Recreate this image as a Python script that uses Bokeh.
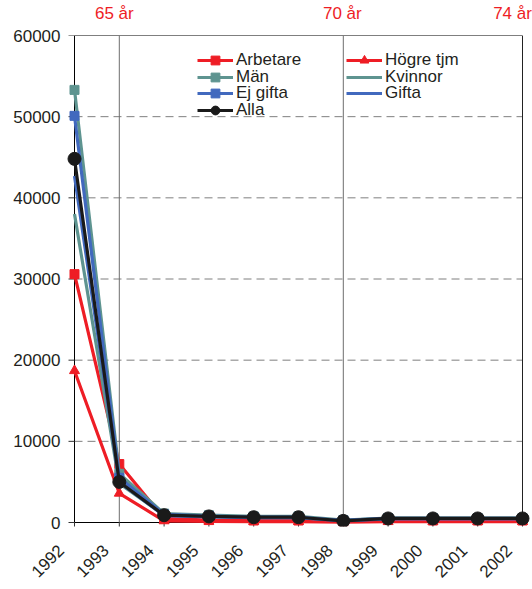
from math import pi
from bokeh.plotting import figure
from bokeh.models import Range1d, FixedTicker, Legend, LegendItem, LinearAxis
from bokeh.embed import file_html
from bokeh.resources import INLINE

# ---- data ----
years = [1992, 1993, 1994, 1995, 1996, 1997, 1998, 1999, 2000, 2001, 2002]
arbetare = [30600, 7200, 500, 300, 250, 250, 150, 350, 250, 250, 250]
hogre_tjm = [18700, 3600, 200, 150, 100, 100, 50, 100, 100, 100, 100]
man = [53300, 6000, 1100, 900, 750, 750, 300, 550, 550, 550, 550]
kvinnor = [38000, 4800, 900, 750, 600, 600, 250, 500, 500, 500, 500]
ej_gifta = [50100, 5500, 1000, 800, 650, 650, 250, 500, 500, 500, 500]
gifta = [42700, 5000, 850, 700, 600, 600, 200, 450, 450, 450, 450]
alla = [44800, 5000, 900, 750, 650, 650, 200, 500, 500, 500, 500]

age_years = [1993, 1998, 2002]
age_labels = ["65 år", "70 år", "74 år"]
y_ticks = [0, 10000, 20000, 30000, 40000, 50000, 60000]

FONT = "Liberation Sans"
RED = "#EE1D25"
TEAL = "#5E9490"
BLUE = "#4169BE"
BLACK = "#1A1A1A"
TXT = "#231F20"

PX_YEAR = 44.8          # pixels per year
PX_UNIT = 487 / 60000   # pixels per value unit
TICK = 6                # tick length in px
AXIS_X = 74             # px of the value axis line
FRAME_L = 60            # frame left edge (value labels end here)
PAD_L, PAD_R, PAD_B = AXIS_X - FRAME_L, 10, 4   # frame padding so edge marks are not clipped
FRAME_B = 522 + PAD_B   # frame bottom, px from top

x0, x1 = years[0], years[-1]
ymax = y_ticks[-1]
xr = (x0 - PAD_L / PX_YEAR, x1 + PAD_R / PX_YEAR)

p = figure(width=532, height=589,
           x_range=Range1d(*xr),
           y_range=Range1d(-PAD_B / PX_UNIT, ymax),
           x_axis_location=None,
           output_backend="svg", toolbar_location=None,
           min_border_left=FRAME_L, min_border_right=0, min_border_top=35,
           min_border_bottom=589 - FRAME_B)
p.outline_line_color = None
p.grid.visible = False
p.background_fill_color = "white"

# bottom axis on a slightly shifted range: rotated labels sit down-left of their ticks
shift = 13.5 / PX_YEAR
p.extra_x_ranges = {"lbl": Range1d(xr[0] + shift, xr[1] + shift)}
bottom_axis = LinearAxis(x_range_name="lbl", ticker=FixedTicker(ticks=years))
p.add_layout(bottom_axis, "below")

p.yaxis.ticker = FixedTicker(ticks=y_ticks)
for ax in (bottom_axis, p.yaxis[0]):
    ax.axis_line_color = None
    ax.major_tick_line_color = None
    ax.minor_tick_line_color = None
    ax.major_tick_in = 0
    ax.major_tick_out = 0
    ax.major_label_text_font = FONT
    ax.major_label_text_font_size = "17px"
    ax.major_label_text_color = TXT
p.yaxis.major_label_standoff = 0
bottom_axis.major_label_orientation = pi / 4
bottom_axis.major_label_standoff = 21

# top axis carrying the age labels
age_offsets_px = [-5, -1, -10]
top_ticks = [a + o / PX_YEAR for a, o in zip(age_years, age_offsets_px)]
top_axis = LinearAxis(ticker=FixedTicker(ticks=top_ticks),
                      major_label_overrides={t: s for t, s in zip(top_ticks, age_labels)},
                      axis_line_color=None, major_tick_line_color=None,
                      minor_tick_line_color=None,
                      major_label_text_font=FONT, major_label_text_font_size="17px",
                      major_label_text_color=RED, major_label_standoff=7)
p.add_layout(top_axis, "above")

# dashed gridlines
grid_y = y_ticks[1:-1]
p.segment(x0=[x0] * len(grid_y), y0=grid_y, x1=[x1] * len(grid_y), y1=grid_y,
          line_color="#7F7F7F", line_width=1, line_dash="8 5")
# axis lines and top border
p.segment(x0=[x0, x0, x0], y0=[0, 0, ymax], x1=[x0, x1, x1], y1=[ymax, 0, ymax],
          line_color="black", line_width=1)
# ticks
p.segment(x0=[x0 - TICK / PX_YEAR] * len(y_ticks), y0=y_ticks, x1=[x0] * len(y_ticks), y1=y_ticks,
          line_color="#333333", line_width=1)
p.segment(x0=years, y0=[0] * len(years), x1=years, y1=[-TICK / PX_UNIT] * len(years),
          line_color="#333333", line_width=1)
# age lines
p.segment(x0=age_years[:2], y0=[0, 0], x1=age_years[:2], y1=[ymax, ymax],
          line_color="#6D6D6D", line_width=1)
p.segment(x0=[age_years[2]], y0=[0], x1=[age_years[2]], y1=[ymax],
          line_color="#222222", line_width=1)

series = [
    ("Arbetare", arbetare, RED, "square", 9),
    ("Högre tjm", hogre_tjm, RED, "triangle", 10),
    ("Män", man, TEAL, "square", 9),
    ("Kvinnor", kvinnor, TEAL, None, 0),
    ("Ej gifta", ej_gifta, BLUE, "square", 9),
    ("Gifta", gifta, BLUE, None, 0),
    ("Alla", alla, BLACK, "circle", 13),
]
items = {}
for name, vals, col, mk, sz in series:
    rs = [p.line(years, vals, line_color=col, line_width=3.2)]
    if mk:
        rs.append(p.scatter(years, vals, marker=mk, size=sz, fill_color=col, line_color=col))
    items[name] = LegendItem(label=name, renderers=rs)

# legend: two columns, rows placed one by one
legend_cols = [["Arbetare", "Män", "Ej gifta", "Alla"], ["Högre tjm", "Kvinnor", "Gifta"]]
col_left = [197, 346]            # px from left of picture
row_center = [60, 76.5, 93, 110]  # px from top of picture
ROW_H = 22
for ci, names in enumerate(legend_cols):
    for ri, n in enumerate(names):
        lg = Legend(items=[items[n]],
                    location=(col_left[ci] - FRAME_L, FRAME_B - row_center[ri] - ROW_H / 2),
                    label_text_font=FONT, label_text_font_size="17px", label_text_color=TXT,
                    glyph_width=36, glyph_height=ROW_H, label_height=ROW_H, label_standoff=3,
                    spacing=0, padding=0, margin=0,
                    background_fill_alpha=0, border_line_alpha=0)
        p.add_layout(lg)

open("out.html", "w").write(file_html(p, INLINE))
